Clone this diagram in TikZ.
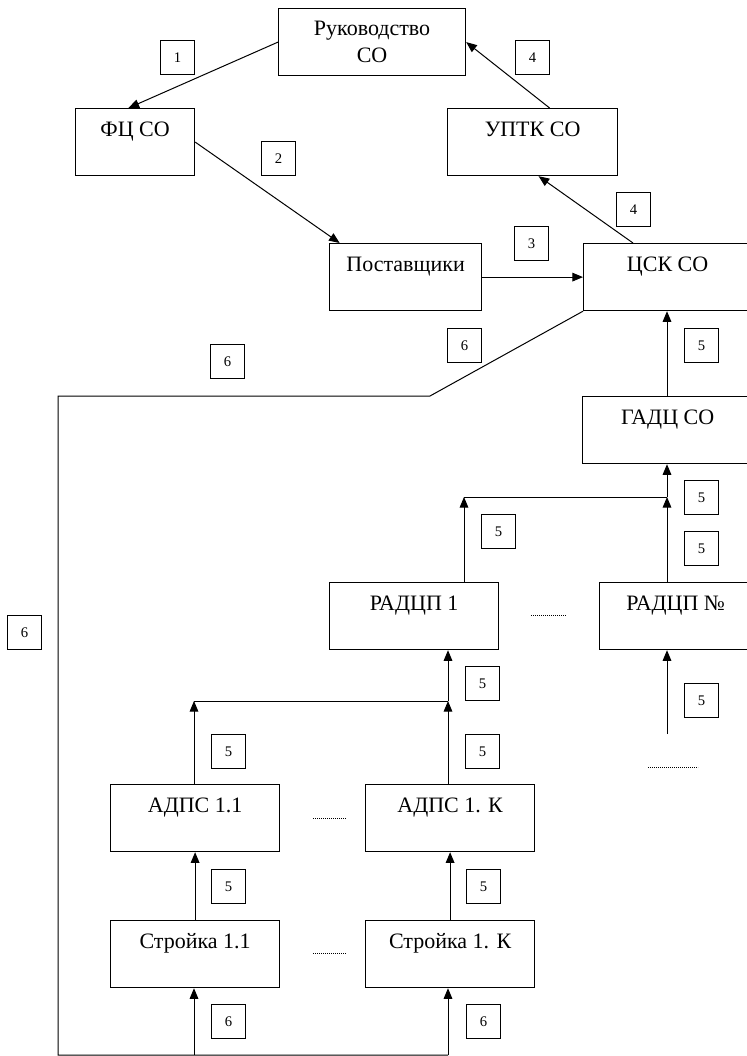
\documentclass[tikz,border=0pt]{standalone}
\usepackage{fontspec}
\setmainfont{Liberation Serif}
\usetikzlibrary{arrows.meta}

\begin{document}
\begin{tikzpicture}[x=0.75pt, y=-0.75pt,
        box/.style={draw, line width=0.9pt, anchor=north west, inner sep=0pt,
            text height=21pt, text depth=29.25pt, font=\fontsize{16.5}{19.5}\selectfont},
        num/.style={draw, line width=0.8pt, anchor=north west, inner sep=0pt,
            minimum size=25.5pt, font=\fontsize{11}{13}\selectfont},
        line/.style={line width=0.75pt},
        arr/.style={line width=0.75pt, -{Triangle[length=8pt, width=6.5pt]}},
        dots/.style={line width=0.6pt, dash pattern=on 0.6pt off 0.9pt}]
    \useasboundingbox (0,0) rectangle (746,1056);

    % boxes
    \node[box, minimum width=140.25pt, minimum height=50.25pt, text height=, text depth=,
        align=center, font=\fontsize{16.5}{20}\selectfont]
        (ruk) at (278,8) {Руководство\\СО};
    \node[box, minimum width=89.25pt] (fc) at (75,108) {ФЦ СО};
    \node[box, minimum width=127.5pt] (uptk) at (447,108) {УПТК СО};
    \node[box, minimum width=114pt] (post) at (329,243) {Поставщики};
    \node[box, minimum width=126pt] (csk) at (583,243) {ЦСК СО};
    \node[box, minimum width=127.5pt] (gadc) at (582,396) {ГАДЦ СО};
    \node[box, minimum width=126.75pt] (radc1) at (329,582) {РАДЦП 1};
    \node[box, minimum width=114pt] (radcn) at (599,582) {РАДЦП №};
    \node[box, minimum width=126.75pt] (adps1) at (110,784) {АДПС 1.1};
    \node[box, minimum width=126.75pt] (adpsk) at (365,784) {АДПС 1. К};
    \node[box, minimum width=126.75pt] (str1) at (110,920) {Стройка 1.1};
    \node[box, minimum width=126.75pt] (strk) at (365,920) {Стройка 1. К};

    % numbers of the flows
    \node[num] (n1) at (160,40) {1};
    \node[num] (n2) at (261,141) {2};
    \node[num] (n3) at (514,226) {3};
    \node[num] (n4a) at (515,40) {4};
    \node[num] (n4b) at (616,192) {4};
    \node[num] (n5a) at (684,328) {5};
    \node[num] (n5b) at (684,480) {5};
    \node[num] (n5c) at (481,514) {5};
    \node[num] (n5d) at (684,531) {5};
    \node[num] (n5e) at (465,666) {5};
    \node[num] (n5f) at (684,683) {5};
    \node[num] (n5g) at (211,734) {5};
    \node[num] (n5h) at (465,734) {5};
    \node[num] (n5i) at (211,869) {5};
    \node[num] (n5j) at (466,869) {5};
    \node[num] (n6a) at (210,344) {6};
    \node[num] (n6b) at (447,328) {6};
    \node[num] (n6c) at (7,615) {6};
    \node[num] (n6d) at (211,1004) {6};
    \node[num] (n6e) at (466,1004) {6};

    % junctions
    \coordinate (j1) at (667,497);
    \coordinate (j1l) at (464,497);
    \coordinate (j2) at (448,701);
    \coordinate (j2l) at (194,701);
    \coordinate (rn) at (667,734);
    \coordinate (k1) at (430,396);
    \coordinate (k2) at (58,396);
    \coordinate (k3) at (58,1055);

    % top part
    \draw[arr] (ruk.west) -- ([xshift=-5pt]fc.north);
    \draw[arr] (fc.east) -- ([xshift=8pt]post.north west);
    \draw[arr] (post.east) -- (csk.west);
    \draw[arr] ([xshift=37.5pt]csk.north west) -- ([xshift=4.5pt]uptk.south);
    \draw[arr] ([xshift=12.75pt]uptk.north) -- (ruk.east);

    % reports upwards
    \draw[arr] (gadc.north -| j1) -- (csk.south -| j1);
    \draw[arr] (j1) -- (gadc.south -| j1);
    \draw[arr] (radcn.north -| j1) -- (j1);
    \draw[arr] (radc1.north -| j1l) -- (j1l);
    \draw[line] (j1l) -- (j1);
    \draw[arr] (rn) -- (radcn.south -| rn);
    \draw[arr] (j2) -- (radc1.south -| j2);
    \draw[arr] (adpsk.north -| j2) -- (j2);
    \draw[arr] (adps1.north -| j2l) -- (j2l);
    \draw[line] (j2l) -- (j2);
    \draw[arr] (str1.north) -- (adps1.south);
    \draw[arr] (strk.north) -- (adpsk.south);

    % flow 6
    \draw[line] (csk.south west) -- (k1) -- (k2) -- (k3) -- (k3 -| j2);
    \draw[arr] (k3 -| j2l) -- (str1.south -| j2l);
    \draw[arr] (k3 -| j2) -- (strk.south -| j2);

    % dots
    \draw[dots] (531,615) -- (566,615);
    \draw[dots] (648,767) -- (698,767);
    \draw[dots] (313,818) -- (346,818);
    \draw[dots] (313,953) -- (346,953);
\end{tikzpicture}
\end{document}
